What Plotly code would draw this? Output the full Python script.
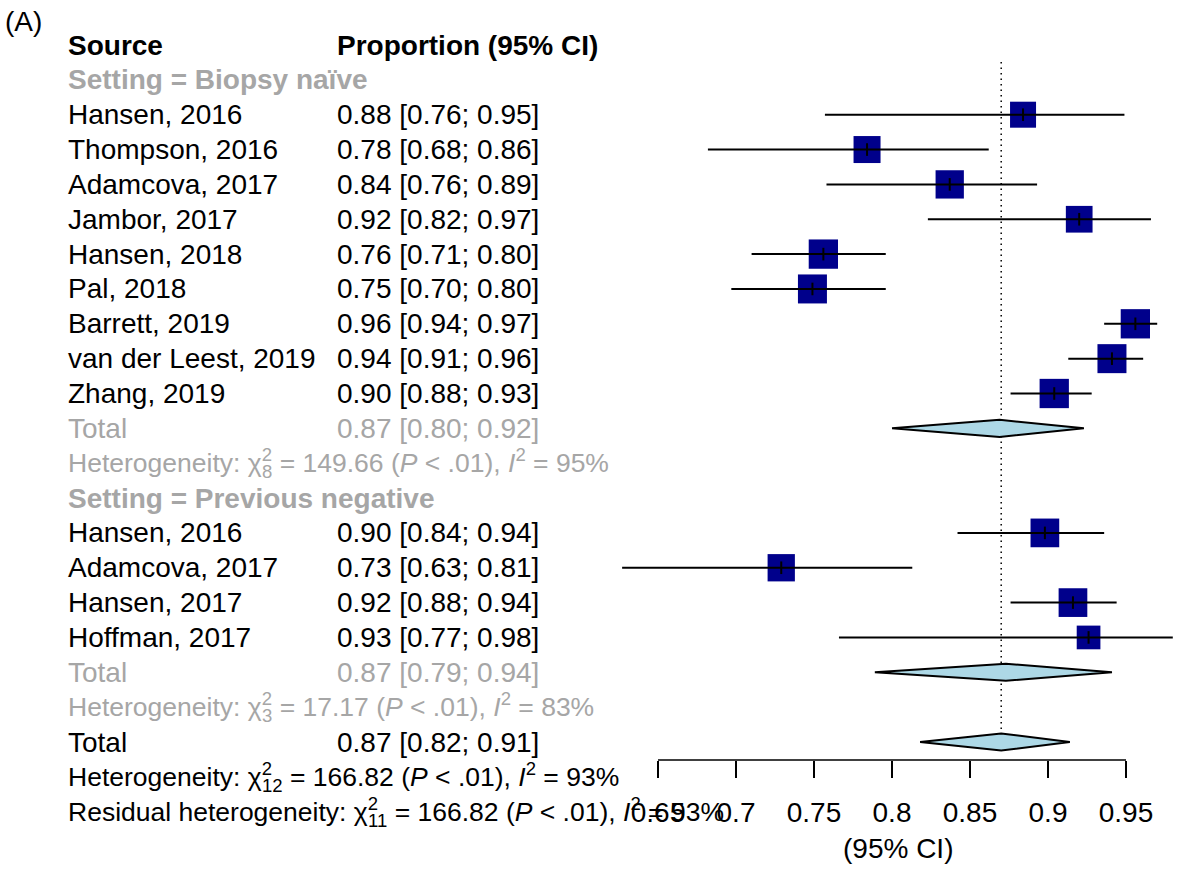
import plotly.graph_objects as go

# ---------------- data ----------------
studies_a = ["Hansen, 2016", "Thompson, 2016", "Adamcova, 2017", "Jambor, 2017", "Hansen, 2018",
             "Pal, 2018", "Barrett, 2019", "van der Leest, 2019", "Zhang, 2019"]
est_a = [0.884, 0.784, 0.837, 0.920, 0.756, 0.749, 0.956, 0.941, 0.904]
lo_a = [0.757, 0.682, 0.758, 0.823, 0.710, 0.697, 0.936, 0.913, 0.876]
hi_a = [0.949, 0.862, 0.893, 0.966, 0.796, 0.796, 0.970, 0.961, 0.928]
size_a = [26, 27, 28.3, 26.7, 29.3, 29, 29.3, 29, 29.3]

studies_b = ["Hansen, 2016", "Adamcova, 2017", "Hansen, 2017", "Hoffman, 2017"]
est_b = [0.898, 0.729, 0.916, 0.926]
lo_b = [0.842, 0.627, 0.876, 0.766]
hi_b = [0.936, 0.813, 0.944, 0.980]
size_b = [28.7, 27.3, 28.7, 23.7]

pooled_a = [0.869, 0.800, 0.923]
pooled_b = [0.873, 0.789, 0.941]
pooled_all = [0.870, 0.818, 0.914]

het_a = {"q": "149.66", "df": "8", "i2": "95%"}
het_b = {"q": "17.17", "df": "3", "i2": "83%"}
het_all = {"q": "166.82", "df": "12", "i2": "93%"}
het_resid = {"q": "166.82", "df": "11", "i2": "93%"}

tick_vals = [0.65, 0.70, 0.75, 0.80, 0.85, 0.90, 0.95]
tick_text = ["0.65", "0.7", "0.75", "0.8", "0.85", "0.9", "0.95"]

# ---------------- layout helpers ----------------
W, H = 1186, 870
ROW0, ROWH = 45.0, 34.85
X_L, X_R = 0.65, 0.95
PX_L, PX_R = 658.0, 1126.0
scale = (PX_R - PX_L) / (X_R - X_L)
x_range = [X_L - PX_L / scale, X_R + (W - PX_R) / scale]
y_range = [(H - ROW0) / ROWH, -ROW0 / ROWH]

BLACK = "#000000"
GREY = "#A6A6A6"
NAVY = "#00008B"
DIAM = "#ADD8E6"
FONT = "Liberation Sans, Arial, Helvetica, sans-serif"
FS = 28
FS_HET = 26.5

rows_a = list(range(2, 2 + len(studies_a)))
row_tot_a = rows_a[-1] + 1
row_het_a = row_tot_a + 1
row_grp_b = row_het_a + 1
rows_b = list(range(row_grp_b + 1, row_grp_b + 1 + len(studies_b)))
row_tot_b = rows_b[-1] + 1
row_het_b = row_tot_b + 1
row_tot = row_het_b + 1
row_het = row_tot + 1
row_res = row_het + 1

fig = go.Figure()

# reference dotted line at pooled estimate
fig.add_trace(go.Scatter(x=[pooled_all[0], pooled_all[0]], y=[0.49, row_tot + 0.22], mode="lines",
                         line=dict(color=BLACK, width=1.5, dash="1.5px,4px"), hoverinfo="skip",
                         showlegend=False))

# study squares with CI (CI line drawn on top of the square)
def add_studies(est, lo, hi, rows, sizes):
    fig.add_trace(go.Scatter(
        x=est, y=rows, mode="markers",
        marker=dict(symbol="square", size=sizes, color=NAVY, opacity=1, line=dict(width=0)),
        showlegend=False, hoverinfo="skip"))
    fig.add_trace(go.Scatter(
        x=est, y=rows, mode="markers",
        marker=dict(symbol="line-ns", size=9, opacity=1, line=dict(color=BLACK, width=2)),
        error_x=dict(type="data", symmetric=False,
                     array=[h - e for h, e in zip(hi, est)],
                     arrayminus=[e - l for e, l in zip(est, lo)],
                     color=BLACK, thickness=2, width=0),
        showlegend=False, hoverinfo="skip"))

add_studies(est_a, lo_a, hi_a, rows_a, size_a)
add_studies(est_b, lo_b, hi_b, rows_b, size_b)

# diamonds
def add_diamond(p, row):
    e, l, h = p
    hh = 0.245
    fig.add_trace(go.Scatter(x=[l, e, h, e, l], y=[row, row - hh, row, row + hh, row],
                             mode="lines", fill="toself", fillcolor=DIAM,
                             line=dict(color=BLACK, width=2), showlegend=False, hoverinfo="skip"))

add_diamond(pooled_a, row_tot_a)
add_diamond(pooled_b, row_tot_b)
add_diamond(pooled_all, row_tot)

# axis line (only over tick range)
axis_y = 1 - 760 / H
fig.add_shape(type="line", xref="x", yref="paper", x0=X_L, x1=X_R, y0=axis_y, y1=axis_y,
              line=dict(color=BLACK, width=1.5))

# ---------------- text ----------------
ann = []
X1 = 66 / W
X2 = 335 / W

def txt(x, row, s, color=BLACK, size=FS, bold=False):
    if bold:
        s = "<b>" + s + "</b>"
    ann.append(dict(xref="paper", yref="y", x=x, y=row, text=s, showarrow=False,
                    xanchor="left", yanchor="middle", font=dict(family=FONT, size=size, color=color)))

def ci(p):
    return f"{p[0]:.2f} [{p[1]:.2f}; {p[2]:.2f}]"

def het(label, h):
    return (f"{label}: χ<sup><span style='letter-spacing:-10px'>2</span></sup><sub>{h['df']}</sub>"
            f" = {h['q']} (<i>P</i> &lt; .01), <i>I</i><sup>2</sup> = {h['i2']}")

ann.append(dict(xref="paper", yref="paper", x=3 / W, y=1 - 21 / H, text="(A)", showarrow=False,
                xanchor="left", yanchor="middle", font=dict(family=FONT, size=FS, color=BLACK)))
txt(X1, 0, "Source", bold=True)
txt(X2, 0, "Proportion (95% CI)", bold=True)
txt(X1, 1, "Setting = Biopsy naïve", color=GREY, bold=True)
for s, e, l, h, r in zip(studies_a, est_a, lo_a, hi_a, rows_a):
    txt(X1, r, s)
    txt(X2, r, ci([e, l, h]))
txt(X1, row_tot_a, "Total", color=GREY)
txt(X2, row_tot_a, ci(pooled_a), color=GREY)
txt(X1, row_het_a, het("Heterogeneity", het_a), color=GREY, size=FS_HET)
txt(X1, row_grp_b, "Setting = Previous negative", color=GREY, bold=True)
for s, e, l, h, r in zip(studies_b, est_b, lo_b, hi_b, rows_b):
    txt(X1, r, s)
    txt(X2, r, ci([e, l, h]))
txt(X1, row_tot_b, "Total", color=GREY)
txt(X2, row_tot_b, ci(pooled_b), color=GREY)
txt(X1, row_het_b, het("Heterogeneity", het_b), color=GREY, size=FS_HET)
txt(X1, row_tot, "Total")
txt(X2, row_tot, ci(pooled_all))
txt(X1, row_het, het("Heterogeneity", het_all), size=FS_HET)
txt(X1, row_res, het("Residual heterogeneity", het_resid), size=FS_HET)

ann.append(dict(xref="x", yref="paper", x=(X_L + X_R) / 2 + 0.004, y=1 - 848 / H, text="(95% CI)",
                showarrow=False, xanchor="center", yanchor="middle",
                font=dict(family=FONT, size=FS, color=BLACK)))

fig.update_layout(
    width=W, height=H, margin=dict(l=0, r=0, t=0, b=0),
    paper_bgcolor="white", plot_bgcolor="white",
    annotations=ann, showlegend=False,
    xaxis=dict(range=x_range, anchor="free", position=axis_y, showgrid=False, zeroline=False,
               showline=False, ticks="outside", ticklen=17, tickwidth=1.5, tickcolor=BLACK,
               tickvals=tick_vals, ticktext=tick_text, ticklabelstandoff=10,
               tickfont=dict(family=FONT, size=FS, color=BLACK)),
    yaxis=dict(range=y_range, visible=False, showgrid=False, zeroline=False),
)

fig.write_html("out.html")
